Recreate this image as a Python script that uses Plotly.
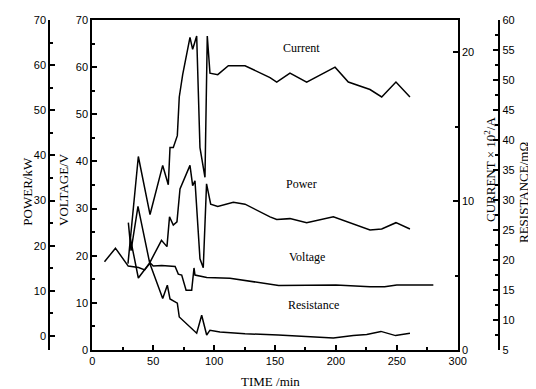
import plotly.graph_objects as go

# ---- data ----
voltage_t = [10, 19, 29.5, 38, 43, 47.5, 50, 57, 68, 70.6, 73.4, 77, 81.6, 83.5, 84.3, 94, 113, 153, 200, 228, 240, 250, 280]
voltage_v = [18.7, 21.6, 17.8, 17.5, 17.0, 18.5, 17.8, 17.9, 17.7, 16.1, 15.9, 12.7, 12.7, 17.4, 15.9, 15.4, 15.2, 13.7, 13.8, 13.4, 13.4, 13.8, 13.8]

current_t = [29.3, 37.8, 47.4, 57.8, 62.4, 63.8, 66.5, 69.8, 71.4, 74.2, 80.2, 82.4, 85.7, 88.4, 92.5, 94.4, 96.6,
             103, 111.7, 125.4, 145.9, 151.4, 162.3, 176, 199.3, 210.2, 228, 237.6, 249.3, 260.8]
current_a = [5.8, 13.0, 9.1, 12.4, 11.1, 13.6, 13.6, 14.4, 17.0, 18.5, 21.0, 20.2, 21.1, 13.6, 11.6, 21.1, 18.6,
             18.5, 19.1, 19.1, 18.3, 18.0, 18.6, 18.0, 19.0, 18.0, 17.5, 17.0, 18.0, 17.0]

power_t = [29.6, 31.8, 37.5, 47.1, 56.8, 61.3, 63.4, 66.5, 69.5, 72, 80.2, 82.4, 84.3, 88.4, 91.1, 93.8, 97.2,
           103, 115.8, 125.4, 145.9, 151.4, 162.3, 176, 197.9, 211.6, 228, 237.6, 249.3, 260.8]
power_kw = [25.1, 18.9, 28.7, 16.2, 21.2, 19.8, 26.4, 24.6, 25.3, 32.6, 37.8, 33.3, 34.4, 17.1, 15.1, 33.7, 29.2,
            28.7, 29.6, 29.2, 26.4, 25.8, 26.0, 25.1, 26.4, 25.1, 23.5, 23.7, 25.1, 23.7]

resist_t = [30.7, 37.8, 47.1, 57.8, 61.6, 63.8, 69.8, 71.4, 85.7, 89.8, 93.9, 96.6, 104.8, 125.4, 152.7, 176,
            197.9, 214.3, 225.3, 237, 249, 260.8]
resist_mohm = [24.2, 17.0, 19.5, 13.6, 15.8, 13.5, 12.8, 10.5, 7.8, 10.8, 7.5, 8.3, 8.0, 7.7, 7.5, 7.3,
               7.0, 7.4, 7.6, 8.1, 7.4, 7.8]

curve_labels = ["Current", "Power", "Voltage", "Resistance"]
label_t = [172, 172, 176.5, 181.5]
label_v = [64.1, 35.2, 19.8, 9.5]

# ---- figure ----
line_style = dict(color="black", width=1.5)
fig = go.Figure()
fig.add_trace(go.Scatter(x=voltage_t, y=voltage_v, mode="lines", line=line_style, yaxis="y", name="Voltage"))
fig.add_trace(go.Scatter(x=current_t, y=current_a, mode="lines", line=line_style, yaxis="y2", name="Current"))
fig.add_trace(go.Scatter(x=resist_t, y=resist_mohm, mode="lines", line=line_style, yaxis="y3", name="Resistance"))
fig.add_trace(go.Scatter(x=power_t, y=power_kw, mode="lines", line=line_style, yaxis="y4", name="Power"))

tickfont = dict(family="Liberation Sans, Arial, sans-serif", size=11, color="black")
axis_common = dict(showline=True, linecolor="black", linewidth=2, showgrid=False, zeroline=False,
                   ticks="inside", ticklen=5, tickwidth=1.5, tickcolor="black", tickfont=tickfont)

# page body has an 8px margin; compensate so the plot lands where the reference has it
OFF = 8
W, H = 536 - OFF, 389 - OFF
paper_left_px, paper_right_px = 10, 534          # window pixels
ml = paper_left_px - OFF
mr = W + OFF - paper_right_px
mt = 20 - OFF
mb = H + OFF - 350
pw = paper_right_px - paper_left_px
x_left, x_right = 92.3, 457.7


def px2paper(px):
    return (px - paper_left_px) / pw


def py2paper(py):
    return (350 - py) / 330


fig.update_layout(
    width=W, height=H,
    margin=dict(l=ml, r=mr, t=mt, b=mb, autoexpand=False),
    paper_bgcolor="white", plot_bgcolor="white",
    showlegend=False,
    xaxis=dict(domain=[px2paper(x_left), px2paper(x_right)], range=[0, 300], dtick=50,
               mirror=True, minor=dict(dtick=25, ticks="inside", ticklen=3, tickcolor="black"),
               **axis_common),
    yaxis=dict(range=[0, 70], dtick=10, anchor="x",
               minor=dict(dtick=5, ticks="inside", ticklen=3, tickcolor="black"), **axis_common),
    yaxis2=dict(range=[0, 22.17], dtick=10, overlaying="y", side="right", anchor="x",
                minor=dict(dtick=5, ticks="inside", ticklen=3, tickcolor="black"), **axis_common),
    yaxis3=dict(range=[5, 60], dtick=5, overlaying="y", side="right", anchor="free",
                position=px2paper(499.3),
                minor=dict(dtick=2.5, ticks="inside", ticklen=3, tickcolor="black"), **axis_common),
    yaxis4=dict(range=[-3.1, 70], dtick=10, tick0=0, overlaying="y", side="left", anchor="free",
                position=px2paper(49.3), domain=[8 / 330, 1],
                minor=dict(dtick=5, ticks="inside", ticklen=3, tickcolor="black"), **axis_common),
)

serif = dict(family="Liberation Serif, Times New Roman, serif", size=12, color="black")
title_font = dict(family="Liberation Serif, Times New Roman, serif", size=13, color="black")
for txt, t, v in zip(curve_labels, label_t, label_v):
    fig.add_annotation(x=t, y=v, xref="x", yref="y", text=txt, showarrow=False, font=serif)

titles = [
    ("POWER/kW", 26.7, 191, -90),
    ("VOLTAGE/V", 63, 190, -90),
    ("CURRENT × 10<sup>2</sup>/A", 490, 170, -90),
    ("RESISTANCE/mΩ", 524, 193, -90),
    ("TIME /min", 270, 381, 0),
]
for txt, px, py, ang in titles:
    fig.add_annotation(x=px2paper(px), y=py2paper(py), xref="paper", yref="paper", text=txt,
                       showarrow=False, textangle=ang, font=title_font, xanchor="center", yanchor="middle")

fig.write_html("out.html")
